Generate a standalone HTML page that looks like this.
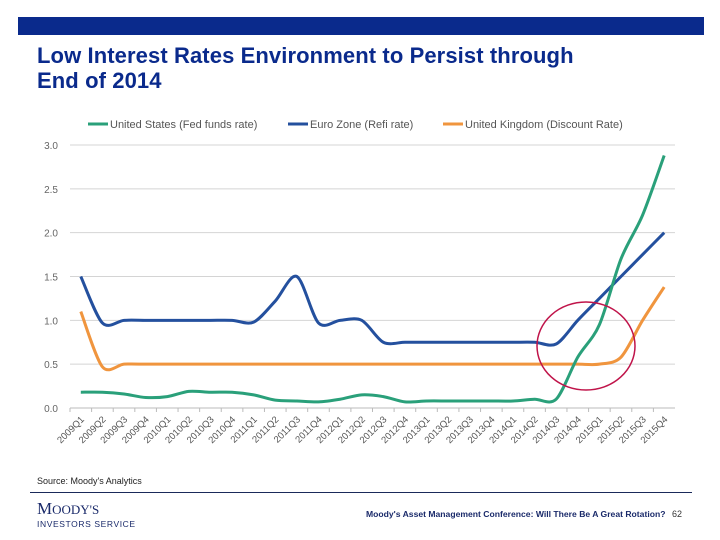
<!DOCTYPE html>
<html><head><meta charset="utf-8"><style>
body{margin:0;width:720px;height:540px;background:#fff;overflow:hidden;position:relative;font-family:"Liberation Sans",sans-serif}
.abs{position:absolute}
</style></head><body>
<div class="abs" style="left:18px;top:17px;width:686px;height:18px;background:#0a2a8c"></div>
<div class="abs" style="left:37px;top:43px;font-size:22px;font-weight:bold;color:#0a2a8c;line-height:25px;letter-spacing:0.1px">Low Interest Rates Environment to Persist through<br>End of 2014</div>
<svg class="abs" style="left:0;top:0" width="720" height="540" id="chart"></svg>
<div class="abs" style="left:37px;top:476px;font-size:9px;color:#222">Source: Moody's Analytics</div>
<div class="abs" style="left:30px;top:492px;width:662px;height:1px;background:#1a2a5a"></div>
<div class="abs" style="left:37px;top:500px;color:#1a2a6a">
<div style="font-family:'Liberation Serif',serif;font-size:17px;line-height:17px">M<span style="font-size:13px">OODY'S</span></div>
<div style="font-size:8.5px;letter-spacing:0.6px;margin-top:1px">INVESTORS SERVICE</div></div>
<div class="abs" style="left:366px;top:509px;font-size:8.6px;font-weight:bold;color:#1a2a6a;letter-spacing:0px">Moody's Asset Management Conference: Will There Be A Great Rotation?</div>
<div class="abs" style="left:672px;top:509px;font-size:9px;color:#333">62</div>
<script>
const categories=["2009Q1","2009Q2","2009Q3","2009Q4","2010Q1","2010Q2","2010Q3","2010Q4","2011Q1","2011Q2","2011Q3","2011Q4","2012Q1","2012Q2","2012Q3","2012Q4","2013Q1","2013Q2","2013Q3","2013Q4","2014Q1","2014Q2","2014Q3","2014Q4","2015Q1","2015Q2","2015Q3","2015Q4"];
const usRate=[0.18,0.18,0.16,0.12,0.13,0.19,0.18,0.18,0.15,0.09,0.08,0.07,0.10,0.15,0.13,0.07,0.08,0.08,0.08,0.08,0.08,0.10,0.10,0.58,0.95,1.7,2.2,2.88];
const euroRate=[1.5,0.97,1.0,1.0,1.0,1.0,1.0,1.0,0.98,1.22,1.5,0.97,1.0,1.0,0.75,0.75,0.75,0.75,0.75,0.75,0.75,0.75,0.73,1.0,1.25,1.5,1.75,2.0];
const ukRate=[1.1,0.47,0.5,0.5,0.5,0.5,0.5,0.5,0.5,0.5,0.5,0.5,0.5,0.5,0.5,0.5,0.5,0.5,0.5,0.5,0.5,0.5,0.5,0.5,0.5,0.58,1.0,1.38];
const yTicks=[0,0.5,1.0,1.5,2.0,2.5,3.0];
const svg=document.getElementById('chart');
const NS='http://www.w3.org/2000/svg';
const x0=70,x1=675,yBase=408,yTop=145;
const band=(x1-x0)/categories.length;
function xs(i){return x0+band*(i+0.5);}
function ys(v){return yBase-(v/3)*(yBase-yTop);}
function mk(t,a){const e=document.createElementNS(NS,t);for(const k in a)e.setAttribute(k,a[k]);svg.appendChild(e);return e;}
yTicks.forEach(v=>{
 const g=mk('line',{x1:x0,x2:x1,y1:ys(v),y2:ys(v),stroke:v===0?'#bbb':'#d4d4d4','stroke-width':1});
 
 
 const t=mk('text',{x:58,y:ys(v)+4,'text-anchor':'end','font-size':10,fill:'#666','font-family':'Liberation Sans, sans-serif'});
 t.textContent=v.toFixed(1);
 
 
});
categories.forEach((c,i)=>{
 const tk=mk('line',{x1:x0+band*i,x2:x0+band*i,y1:yBase,y2:yBase+4,stroke:'#bbb'});
 
 
 const t=mk('text',{x:xs(i)+4,y:yBase+12,'text-anchor':'end','font-size':9.5,fill:'#555','font-family':'Liberation Sans, sans-serif',transform:`rotate(-45 ${xs(i)+4} ${yBase+12})`});
 t.textContent=c;
 
 
});
function smooth(vals){
 const p=vals.map((v,i)=>[xs(i),ys(v)]);
 let d=`M${p[0][0]},${p[0][1]}`;
 for(let i=0;i<p.length-1;i++){
  const a=p[i-1]||p[i],b=p[i],c=p[i+1],e=p[i+2]||c;
  const t=0.15;
  d+=` C${b[0]+(c[0]-a[0])*t},${b[1]+(c[1]-a[1])*t} ${c[0]-(e[0]-b[0])*t},${c[1]-(e[1]-b[1])*t} ${c[0]},${c[1]}`;
 }
 return d;
}
[[ukRate,'#f0953e','uk-line'],[euroRate,'#24509e','euro-line'],[usRate,'#2aa07a','us-line']].forEach(([v,c,n])=>{
 const l=mk('path',{d:smooth(v),fill:'none',stroke:c,'stroke-width':3,'stroke-linejoin':'round'});
 
 
});
const circ=mk('ellipse',{cx:586,cy:346,rx:49,ry:44,fill:'none',stroke:'#c0144a','stroke-width':1.5});


[['United States (Fed funds rate)','#2aa07a',88],['Euro Zone (Refi rate)','#24509e',288],['United Kingdom (Discount Rate)','#f0953e',443]].forEach(([s,c,x])=>{
 const l=mk('line',{x1:x,x2:x+20,y1:124,y2:124,stroke:c,'stroke-width':3});
 
 
 const t=mk('text',{x:x+22,y:128,'font-size':11,fill:'#555','font-family':'Liberation Sans, sans-serif'});
 t.textContent=s;
 
 
});
</script>
</body></html>
